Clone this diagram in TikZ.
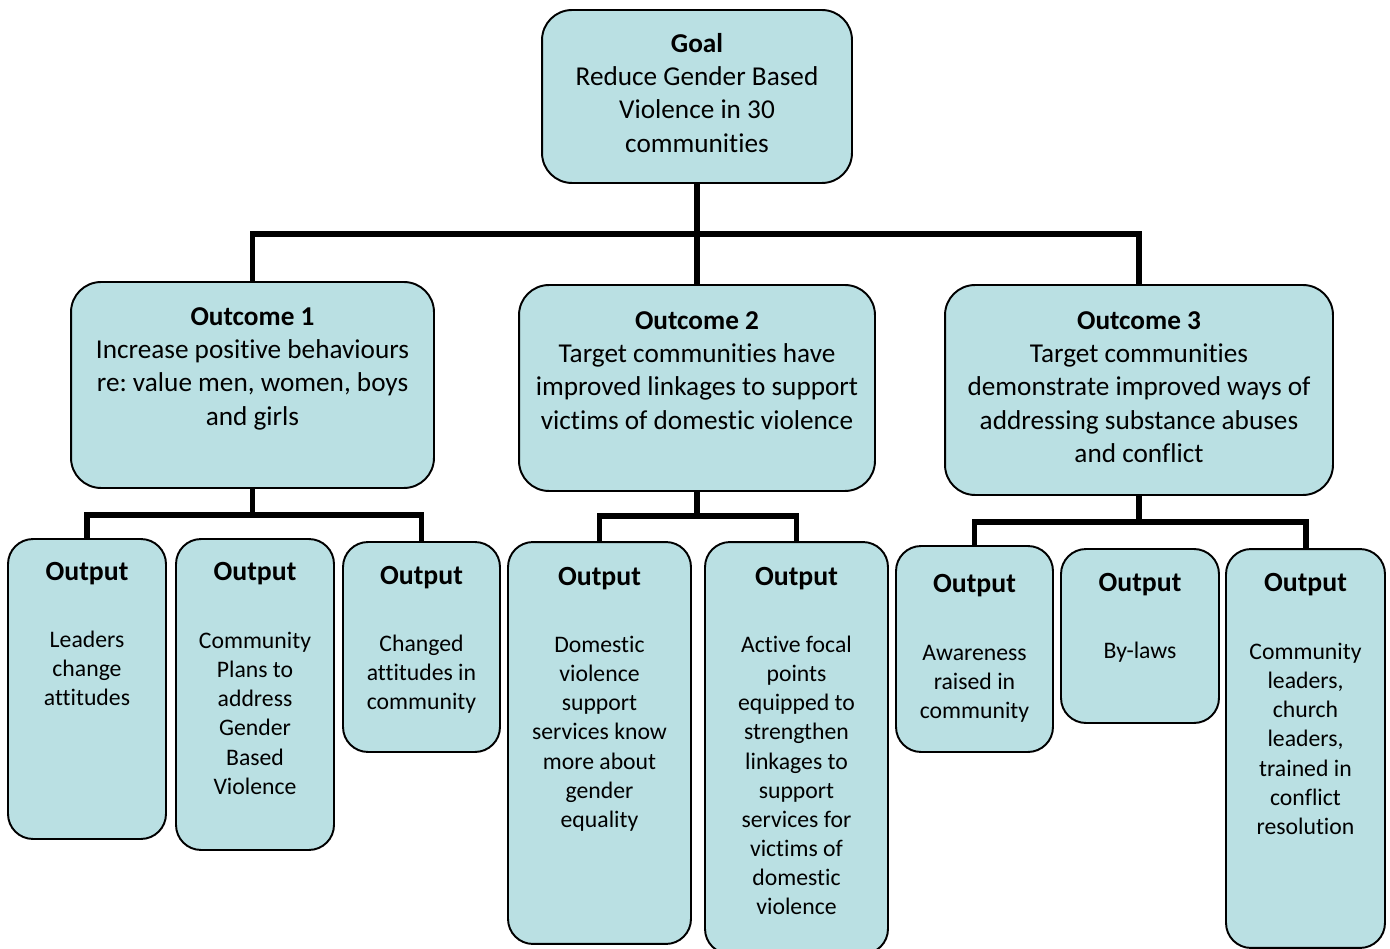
\documentclass[tikz,border=0pt]{standalone}
\usepackage{fontspec}
\setmainfont{Carlito}[RawFeature=-liga,RawFeature=-clig,RawFeature=-calt,RawFeature=-dlig]
\frenchspacing
\definecolor{boxfill}{RGB}{186,224,227}
\pgfdeclarelayer{background}
\pgfsetlayers{background,main}
\begin{document}
\begin{tikzpicture}[x=0.02cm,y=-0.02cm,
  box/.style={draw=black,line width=1.1pt,fill=boxfill,rounded corners=0.6cm,inner sep=0pt},
  obox/.style={draw=black,line width=1.1pt,fill=boxfill,rounded corners=0.5cm,inner sep=0pt},
  conn/.style={draw=black,line width=3.4pt,line join=miter},
  bigtxt/.style={align=center,inner sep=0pt,anchor=north,font=\fontsize{15.5}{19}\selectfont},
  ttl/.style={inner sep=0pt,anchor=base,font=\fontsize{15.8}{19}\selectfont\bfseries},
  bodytxt/.style={align=center,inner sep=0pt,anchor=north,font=\fontsize{13.5}{16.55}\selectfont}]
\useasboundingbox (0,0) rectangle (1390,949);
% bus coordinates
\coordinate (bus0) at (697,234);
\coordinate (bus1) at (252.5,515);
\coordinate (bus2) at (697,516);
\coordinate (bus3) at (1139,522);
% boxes
\node[box,minimum width=6.2cm,minimum height=3.46cm] (goal) at (697,96.5) {};
\node[box,minimum width=7.26cm,minimum height=4.12cm] (o1) at (252.5,385) {};
\node[box,minimum width=7.12cm,minimum height=4.12cm] (o2) at (697,388) {};
\node[box,minimum width=7.76cm,minimum height=4.2cm] (o3) at (1139,390) {};
\node[obox,minimum width=3.16cm,minimum height=6.0cm] (p1a) at (87,689) {};
\node[obox,minimum width=3.16cm,minimum height=6.22cm] (p1b) at (255,694.5) {};
\node[obox,minimum width=3.14cm,minimum height=4.2cm] (p1c) at (421.5,647) {};
\node[obox,minimum width=3.66cm,minimum height=8.04cm] (p2a) at (599.5,743) {};
\node[obox,minimum width=3.66cm,minimum height=8.24cm] (p2b) at (796.5,748) {};
\node[obox,minimum width=3.14cm,minimum height=4.12cm] (p3a) at (974.5,649) {};
\node[obox,minimum width=3.16cm,minimum height=3.48cm] (p3b) at (1140,636) {};
\node[obox,minimum width=3.18cm,minimum height=7.98cm] (p3c) at (1305.5,748.5) {};
% connectors behind the boxes
\begin{pgfonlayer}{background}
\draw[conn] (goal.south) -- (o2.north);
\draw[conn] (o1.north) |- (bus0) -| (o3.north);
\draw[conn] (o1.south) -- (bus1);
\draw[conn] (p1a.north) |- (bus1) -| (p1c.north);
\draw[conn] (o2.south) -- (bus2);
\draw[conn] (p2a.north) |- (bus2) -| (p2b.north);
\draw[conn] (o3.south) -- (bus3);
\draw[conn] (p3a.north) |- (bus3) -| (p3c.north);
\end{pgfonlayer}
% texts
\node[bigtxt] (tgoal) at (697,28.5) {\strut\textbf{Goal}\\Reduce Gender Based\\Violence in 30\\communities};
\node[bigtxt] (to1) at (252.5,301.5) {\strut\textbf{Outcome 1}\\Increase positive behaviours\\re: value men, women, boys\\and girls};
\node[bigtxt] (to2) at (697,305.5) {\strut\textbf{Outcome 2}\\Target communities have\\improved linkages to support\\victims of domestic violence};
\node[bigtxt] (to3) at (1139,305.5) {\strut\textbf{Outcome 3}\\Target communities\\demonstrate improved ways of\\addressing substance abuses\\and conflict};
% output titles
\node[ttl] (h1a) at (87,581) {Output};
\node[ttl] (h1b) at (255,581) {Output};
\node[ttl] (h1c) at (421.5,584) {Output};
\node[ttl] (h2a) at (599.5,585) {Output};
\node[ttl] (h2b) at (796.5,585) {Output};
\node[ttl] (h3a) at (974.5,592) {Output};
\node[ttl] (h3b) at (1140,591) {Output};
\node[ttl] (h3c) at (1305.5,591) {Output};
% output bodies
\node[bodytxt] (b1a) at (87,627) {\strut Leaders\\change\\attitudes};
\node[bodytxt] (b1b) at (255,628) {\strut Community\\Plans to\\address\\Gender\\Based\\Violence};
\node[bodytxt] (b1c) at (421.5,631) {\strut Changed\\attitudes in\\community};
\node[bodytxt] (b2a) at (599.5,632) {\strut Domestic\\violence\\support\\services know\\more about\\gender\\equality};
\node[bodytxt] (b2b) at (796.5,632) {\strut Active focal\\points\\equipped to\\strengthen\\linkages to\\support\\services for\\victims of\\domestic\\violence};
\node[bodytxt] (b3a) at (974.5,640) {\strut Awareness\\raised in\\community};
\node[bodytxt] (b3b) at (1140,638) {\strut By-laws};
\node[bodytxt] (b3c) at (1305.5,639) {\strut Community\\leaders,\\church\\leaders,\\trained in\\conflict\\resolution};
\end{tikzpicture}
\end{document}
